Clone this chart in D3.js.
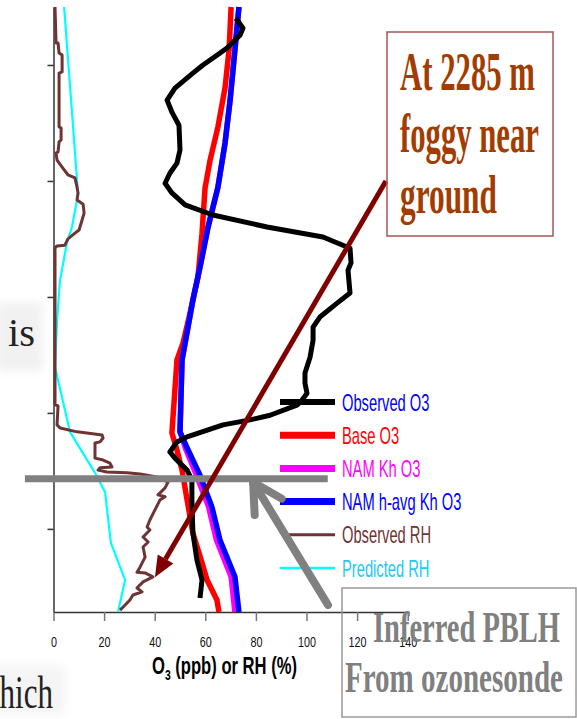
<!DOCTYPE html>
<html>
<head>
<meta charset="utf-8">
<script src="https://cdn.jsdelivr.net/npm/d3@7"></script>
<style>
  html, body { margin: 0; padding: 0; background: #fff; }
  svg { display: block; }
</style>
</head>
<body>
<svg id="chart" width="577" height="719"></svg>
<script>
// Ozone and relative-humidity profiles: [value (ppb or %), altitude (m ASL)]
const observedO3 = [
  [72.1,3821],[74.9,3795],[73.7,3777],[68.6,3744],[64.6,3725],[59.1,3700],[55.1,3679],
  [48.0,3640],[44.9,3609],[46.8,3578],[49.6,3544],[50.0,3480],[48.8,3446],[46.0,3420],
  [44.1,3394],[46.8,3369],[52.0,3338],[63.0,3312],[84.4,3281],[106.5,3255],[117.2,3226],
  [117.6,3188],[116.4,3169],[117.2,3110],[112.1,3084],[105.3,3048],[102.6,3022],[102.6,2988],
  [101.4,2944],[99.4,2903],[99.4,2877],[100.2,2851],[98.2,2833],[96.2,2820],[85.6,2794],
  [77.7,2782],[67.0,2769],[52.8,2738],[48.8,2725],[46.0,2699],[48.0,2683],[52.8,2652],
  [54.7,2626],[54.7,2575],[55.1,2489],[56.7,2419],[58.7,2368],[57.9,2321]
];
const baseO3 = [
  [70.2,3850],[69.4,3739],[67.8,3641],[65.0,3540],[61.9,3454],[59.9,3382],[58.7,3265],
  [57.1,3152],[53.6,3048],[51.2,2981],[48.8,2937],[46.8,2748],[48.8,2704],[50.8,2652],
  [52.8,2575],[55.1,2489],[58.7,2412],[60.7,2368],[64.6,2316],[65.4,2285]
];
const namKhO3 = [
  [73.3,3850],[71.7,3739],[69.8,3609],[67.8,3498],[65.0,3384],[61.1,3281],[57.9,3177],
  [55.1,3092],[50.8,2937],[50.0,2751],[52.4,2704],[56.5,2639],[61.3,2557],[64.4,2471],
  [70.2,2376],[71.7,2285]
];
const namHavgKhO3 = [
  [73.3,3850],[71.7,3739],[69.8,3609],[67.8,3498],[65.0,3384],[61.1,3281],[57.9,3177],
  [55.1,3092],[50.8,2937],[50.0,2751],[53.2,2704],[57.9,2639],[62.6,2557],[65.8,2471],
  [71.7,2376],[73.3,2285]
];
const observedRH = [
  [0.6,3850],[1.0,3757],[1.8,3757],[2.2,3731],[3.4,3726],[3.4,3682],[2.2,3679],[2.2,3540],
  [3.0,3537],[3.0,3506],[2.2,3501],[1.8,3475],[1.0,3472],[1.4,3454],[3.4,3436],[5.7,3416],
  [8.5,3408],[9.3,3384],[9.7,3369],[9.3,3351],[11.7,3340],[12.1,3317],[11.3,3299],[10.1,3273],
  [8.5,3265],[5.7,3250],[4.5,3234],[1.4,3232],[0.6,3227],[0.6,2821],[1.8,2818],[1.4,2769],
  [2.6,2761],[9.3,2751],[13.2,2748],[19.2,2743],[19.6,2735],[18.4,2725],[16.4,2722],[16.4,2683],
  [19.6,2678],[22.3,2670],[23.1,2660],[18.4,2658],[17.6,2652],[21.1,2647],[29.1,2645],[34.2,2642],
  [40.9,2634],[45.3,2621],[44.1,2606],[41.3,2588],[44.1,2583],[42.1,2575],[40.1,2549],[38.1,2523],
  [37.0,2505],[38.1,2497],[35.4,2479],[37.4,2466],[35.4,2453],[36.2,2427],[34.2,2401],[33.0,2388],
  [36.2,2386],[39.3,2376],[35.4,2363],[33.0,2347],[35.0,2337],[31.4,2329],[30.2,2316],[28.3,2303],
  [26.3,2290]
];
const predictedRH = [
  [4.2,3850],[9.3,3403],[9.7,3369],[9.3,3351],[7.3,3281],[5.3,3240],[2.6,3144],[1.4,3040],
  [0.6,2919],[6.5,2751],[16.4,2645],[20.4,2595],[22.7,2463],[28.3,2368],[25.5,2285]
];

const xTicks = [0, 20, 40, 60, 80, 100, 120, 140];
const altTicks = [2500, 2800, 3100, 3400, 3700];

const legendLabels = ["Observed O3", "Base O3", "NAM Kh O3", "NAM h-avg Kh O3", "Observed RH", "Predicted RH"];

// Inferred boundary-layer top and the annotation anchors, in data units
const pblhAlt = 2630;
const pblhBarSpan = [-11.3, 108.4];
const fogArrow = { from: [131.4, 3400], to: [40.1, 2375] };
const pblhArrow = { from: [108.5, 2303], to: [78.9, 2621] };

const svg = d3.select("#chart");
const x = d3.scaleLinear().domain([0, 140]).range([53.5, 407.7]);
const y = d3.scaleLinear().domain([2285, 3850]).range([612, 7]);

const series = [
  { data: predictedRH, color: "#00ffff", width: 2.2 },
  { data: observedRH, color: "#6e3434", width: 3 },
  { data: baseO3, color: "#ff0000", width: 5.5 },
  { data: namKhO3, color: "#ff00ff", width: 5.5 },
  { data: namHavgKhO3, color: "#0000ff", width: 5.5 },
  { data: observedO3, color: "#000000", width: 5 }
];

// Background document text peeking in at the left edge
const defs = svg.append("defs");
defs.append("filter").attr("id", "haze").attr("x", "-50%").attr("y", "-50%")
  .attr("width", "200%").attr("height", "200%")
  .append("feGaussianBlur").attr("stdDeviation", 5);
svg.append("rect").attr("x", -5).attr("y", 302).attr("width", 48).attr("height", 70)
  .attr("fill", "#000").attr("opacity", 0.05).attr("filter", "url(#haze)");
svg.append("rect").attr("x", -5).attr("y", 665).attr("width", 70).attr("height", 50)
  .attr("fill", "#000").attr("opacity", 0.04).attr("filter", "url(#haze)");

function squeeze(parent, px, py, width, anchor, style, build) {
  const g = parent.append("g").attr("transform", `translate(${px},${py})`);
  const t = g.append("text").attr("text-anchor", anchor);
  Object.entries(style).forEach(([k, v]) => t.style(k, v));
  build(t);
  const w = t.node().getBBox().width;
  g.attr("transform", `translate(${px},${py}) scale(${width / w},1)`);
  return t;
}

squeeze(svg, 8, 346, 27, "start",
  { "font-family": "'Liberation Serif', 'Times New Roman', serif", "font-size": "40px", fill: "#222" },
  t => t.text("is"));
svg.append("g").attr("transform", "translate(53,708) scale(0.66,1)")
  .append("text").attr("text-anchor", "end")
  .style("font-family", "'Liberation Serif', 'Times New Roman', serif")
  .style("font-size", "47px").style("fill", "#222")
  .text("which");

// Axes
const xAxis = svg.append("g").attr("transform", "translate(0,612)")
  .call(d3.axisBottom(x).tickValues(xTicks).tickSize(9).tickSizeOuter(0));
xAxis.select(".domain").attr("stroke", "#333").attr("stroke-width", 1.5);
xAxis.selectAll(".tick line").attr("stroke", "#777").attr("stroke-width", 1.5);
xAxis.selectAll(".tick text")
  .attr("y", 25).attr("dy", "0.71em")
  .attr("transform", "scale(0.77,1)")
  .style("font-family", "'Liberation Sans', Arial, sans-serif")
  .style("font-size", "14px").style("fill", "#111");

const yAxis = svg.append("g").attr("transform", "translate(53.5,0)")
  .call(d3.axisLeft(y).tickValues(altTicks).tickSize(6).tickSizeOuter(0).tickFormat(""));
yAxis.select(".domain").attr("stroke", "#333").attr("stroke-width", 1.5);
yAxis.selectAll(".tick line").attr("stroke", "#333").attr("stroke-width", 1.5);

squeeze(svg, 224.5, 674, 145, "middle",
  { "font-family": "'Liberation Sans', Arial, sans-serif", "font-size": "24px", "font-weight": "bold", fill: "#000" },
  t => {
    t.append("tspan").text("O");
    t.append("tspan").attr("dy", 6).style("font-size", "15px").text("3");
    t.append("tspan").attr("dy", -6).text(" (ppb) or RH (%)");
  });

// Profiles
const line = d3.line().x(d => x(d[0])).y(d => y(d[1]));
svg.append("g").selectAll("path").data(series).join("path")
  .attr("d", s => line(s.data))
  .attr("fill", "none")
  .attr("stroke", s => s.color)
  .attr("stroke-width", s => s.width)
  .attr("stroke-linejoin", "round");

// Legend
const legendItems = [
  { color: "#000000", text: "#0000ff", width: 6, x0: 280 },
  { color: "#ff0000", text: "#ff0000", width: 7, x0: 280 },
  { color: "#ff00ff", text: "#ff00ff", width: 7, x0: 280 },
  { color: "#0000ff", text: "#0000ff", width: 7, x0: 280 },
  { color: "#6e3434", text: "#6e3434", width: 3, x0: 288 },
  { color: "#00ffff", text: "#22c8f5", width: 2.5, x0: 280 }
];
const legend = svg.append("g");
legendItems.forEach((item, i) => {
  const cy = 402 + i * 33.2;
  legend.append("line").attr("x1", item.x0).attr("x2", 335).attr("y1", cy).attr("y2", cy)
    .attr("stroke", item.color).attr("stroke-width", item.width);
  legend.append("g").attr("transform", `translate(342,${cy + 8.5}) scale(0.64,1)`)
    .append("text")
    .style("font-family", "'Liberation Sans', Arial, sans-serif")
    .style("font-size", "23px").style("fill", item.text)
    .text(legendLabels[i]);
});

// Inferred PBLH bar
svg.append("line")
  .attr("x1", x(pblhBarSpan[0])).attr("x2", x(pblhBarSpan[1]))
  .attr("y1", y(pblhAlt)).attr("y2", y(pblhAlt))
  .attr("stroke", "#808080").attr("stroke-width", 7);

// Grey open-headed arrow pointing at the bar
{
  const [tx, ty] = [x(pblhArrow.to[0]), y(pblhArrow.to[1])];
  const [fx, fy] = [x(pblhArrow.from[0]), y(pblhArrow.from[1])];
  const back = Math.atan2(fy - ty, fx - tx);
  const g = svg.append("g").attr("stroke", "#808080").attr("stroke-width", 8)
    .attr("stroke-linecap", "round").attr("fill", "none");
  g.append("line").attr("x1", fx).attr("y1", fy).attr("x2", tx).attr("y2", ty);
  [-0.5, 0.5].forEach(da => {
    const a = back + da;
    g.append("line").attr("x1", tx).attr("y1", ty)
      .attr("x2", tx + 33 * Math.cos(a)).attr("y2", ty + 33 * Math.sin(a));
  });
}

// Dark red arrow from the fog note down to the surface layer
{
  const [tx, ty] = [x(fogArrow.to[0]), y(fogArrow.to[1])];
  const [fx, fy] = [x(fogArrow.from[0]), y(fogArrow.from[1])];
  const len = Math.hypot(tx - fx, ty - fy);
  const ux = (tx - fx) / len, uy = (ty - fy) / len;
  const hl = 21, hw = 9;
  const bx = tx - ux * hl, by = ty - uy * hl;
  svg.append("line").attr("x1", fx).attr("y1", fy).attr("x2", bx).attr("y2", by)
    .attr("stroke", "#800000").attr("stroke-width", 5);
  svg.append("path")
    .attr("d", `M${tx},${ty}L${bx - uy * hw},${by + ux * hw}L${bx + uy * hw},${by - ux * hw}Z`)
    .attr("fill", "#800000");
}

// Note boxes
const serifBold = { "font-family": "'Liberation Serif', 'Times New Roman', serif", "font-weight": "bold" };
svg.append("rect").attr("x", 387).attr("y", 32).attr("width", 166).attr("height", 204)
  .attr("fill", "none").attr("stroke", "#a85454").attr("stroke-width", 1.5);
[["At 2285 m", 90, 135], ["foggy near", 152, 139], ["ground", 213, 97]].forEach(([txt, by, w]) => {
  squeeze(svg, 400, by, w, "start", { ...serifBold, "font-size": "54px", fill: "#a33c00" }, t => t.text(txt));
});

svg.append("rect").attr("x", 342).attr("y", 588).attr("width", 234).attr("height", 129)
  .attr("fill", "none").attr("stroke", "#999").attr("stroke-width", 1.5);
squeeze(svg, 373, 642, 187, "start", { ...serifBold, "font-size": "45px", fill: "#808080" }, t => t.text("Inferred PBLH"));
squeeze(svg, 345, 692, 218, "start", { ...serifBold, "font-size": "45px", fill: "#808080" }, t => t.text("From ozonesonde"));
</script>
</body>
</html>
